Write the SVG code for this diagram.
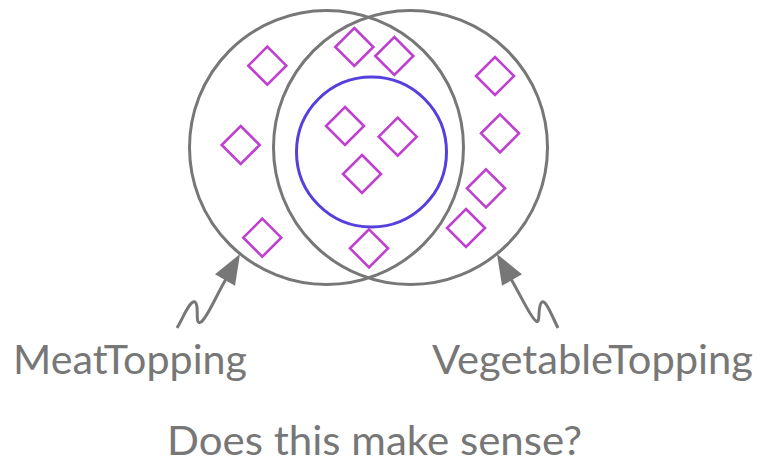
<svg xmlns="http://www.w3.org/2000/svg" width="760" height="471" viewBox="0 0 760 471">
<style>
.set{fill:none;stroke:#777;stroke-width:3}
.sub{fill:none;stroke:#5540dd;stroke-width:3}
.ind{fill:none;stroke:#bf3fd0;stroke-width:2.6}
.conn{fill:none;stroke:#777;stroke-width:3}
.head{fill:#777;stroke:none}
.lbl{font-family:Lato,"Open Sans","Liberation Sans",sans-serif;font-size:40px;fill:#777}
</style>
<defs>
<path id="d" d="M0,-19 L19,0 L0,19 L-19,0 Z"/>
</defs>
<rect width="760" height="471" fill="#fff"/>
<g id="MeatTopping">
<circle class="set" cx="326.5" cy="147.5" r="137"/>
<text class="lbl" x="13" y="374" textLength="234" lengthAdjust="spacingAndGlyphs">MeatTopping</text>
</g>
<g id="VegetableTopping">
<circle class="set" cx="410.5" cy="147.5" r="137"/>
<text class="lbl" x="432" y="374" textLength="321" lengthAdjust="spacingAndGlyphs">VegetableTopping</text>
</g>
<g id="subset">
<circle class="sub" cx="371.5" cy="152" r="75"/>
</g>
<g id="individuals">
<use href="#d" class="ind" x="267.3" y="65.7"/>
<use href="#d" class="ind" x="354.3" y="47"/>
<use href="#d" class="ind" x="394.3" y="56"/>
<use href="#d" class="ind" x="495" y="76"/>
<use href="#d" class="ind" x="240.7" y="145"/>
<use href="#d" class="ind" x="345" y="126"/>
<use href="#d" class="ind" x="397.7" y="136.7"/>
<use href="#d" class="ind" x="500" y="133.3"/>
<use href="#d" class="ind" x="362" y="174"/>
<use href="#d" class="ind" x="486" y="188.3"/>
<use href="#d" class="ind" x="466" y="228"/>
<use href="#d" class="ind" x="262.3" y="237.7"/>
<use href="#d" class="ind" x="369" y="248.3"/>
</g>
<g id="connectors">
<path class="conn" d="M177,328 C184,316 190,300 195,302 C200,305 194,326 201,322 C207,318 215,298 226,279"/>
<polygon class="head" points="240,254 235,285.75 215,274.25"/>
<path class="conn" d="M558,328 C552,316 546,300 542,302 C537,305 541,325 536,321 C531,318 522,298 511,279"/>
<polygon class="head" points="497,254 522,274.25 502,285.75"/>
</g>
<g id="question">
<text class="lbl" x="167" y="455" textLength="415" lengthAdjust="spacingAndGlyphs">Does this make sense?</text>
</g>
</svg>
